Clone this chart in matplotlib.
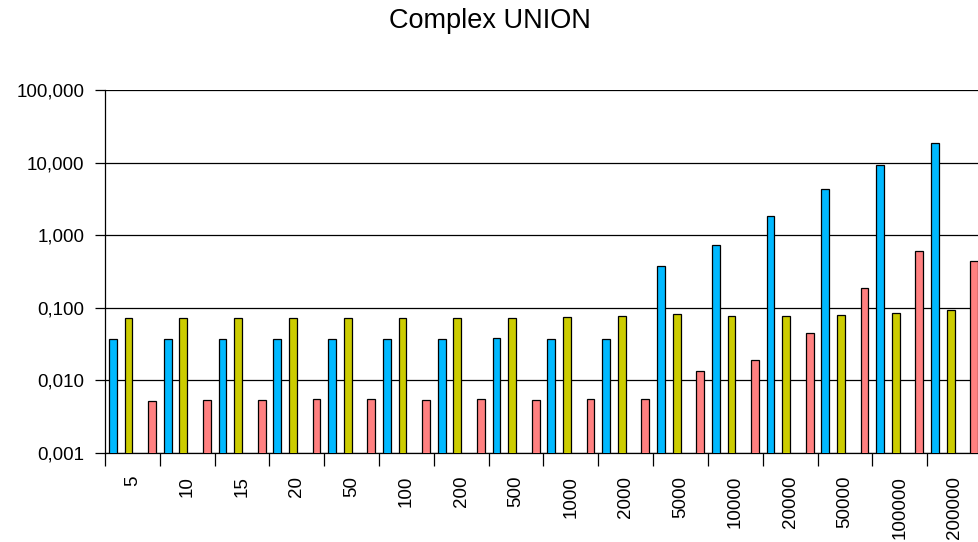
import matplotlib
matplotlib.use("Agg")
import matplotlib.pyplot as plt
import numpy as np
from matplotlib.ticker import FixedLocator, FuncFormatter, NullFormatter

plt.rcParams['font.family'] = ['Liberation Sans', 'DejaVu Sans']

categories = ["5", "10", "15", "20", "50", "100", "200", "500", "1000", "2000",
              "5000", "10000", "20000", "50000", "100000", "200000"]
series_blue = [0.0367, 0.0367, 0.0367, 0.0367, 0.037, 0.037, 0.0376, 0.0387, 0.0376, 0.0374,
               0.372, 0.728, 1.83, 4.35, 9.2, 18.5]
series_yellow = [0.0714, 0.0728, 0.072, 0.072, 0.072, 0.072, 0.073, 0.073, 0.075, 0.0768,
                 0.081, 0.0767, 0.078, 0.079, 0.085, 0.094]
series_pink = [0.00519, 0.00535, 0.00535, 0.00558, 0.0055, 0.0054, 0.0055, 0.0054, 0.0056, 0.0056,
               0.0133, 0.0191, 0.0449, 0.19, 0.614, 0.44]

fig = plt.figure(figsize=(9.79, 5.42), dpi=100)
ax = fig.add_axes([105/979, 89/542, 877/979, 363/542])

n = len(categories)
x = np.arange(n)
slot = 1.0 / 7.0  # 6 series slots + gap
bw = slot
def pos(k):
    return x - 0.5 + slot * 0.5 + slot * k + bw / 2

kw = dict(width=bw, edgecolor='black', linewidth=0.9, zorder=3)
ax.bar(pos(0), series_blue, color='#00B9FF', **kw)
ax.bar(pos(2), series_yellow, color='#CCCC00', **kw)
ax.bar(pos(5), series_pink, color='#FF8080', **kw)

ax.set_yscale('log')
ax.set_ylim(0.001, 100)
ax.set_xlim(-0.5, n - 0.5)
ax.yaxis.set_major_locator(FixedLocator([0.001, 0.01, 0.1, 1, 10, 100]))
ax.yaxis.set_minor_locator(FixedLocator([]))
ax.yaxis.set_major_formatter(FuncFormatter(lambda v, p: f"{v:.3f}".replace('.', ',')))
ax.grid(axis='y', color='black', linewidth=0.9, zorder=1)
ax.tick_params(axis='y', direction='out', length=7, width=0.9, labelsize=13.5, pad=8)

ax.set_xticks(x)
ax.set_xticklabels(categories, rotation=90, fontsize=13.5, va='top')
ax.set_xticks(np.arange(n + 1) - 0.5, minor=True)
ax.xaxis.set_minor_formatter(NullFormatter())
ax.tick_params(axis='x', which='major', length=0, pad=16.5)
ax.tick_params(axis='x', which='minor', direction='out', length=9, width=0.9)

for s in ['top', 'right']:
    ax.spines[s].set_visible(False)
ax.spines['left'].set_linewidth(0.9)
ax.spines['bottom'].set_linewidth(0.9)

fig.text(490/979, 1 - 28/542, "Complex UNION", ha='center', va='baseline', fontsize=19.5)

fig.savefig("out.png", dpi=100)
